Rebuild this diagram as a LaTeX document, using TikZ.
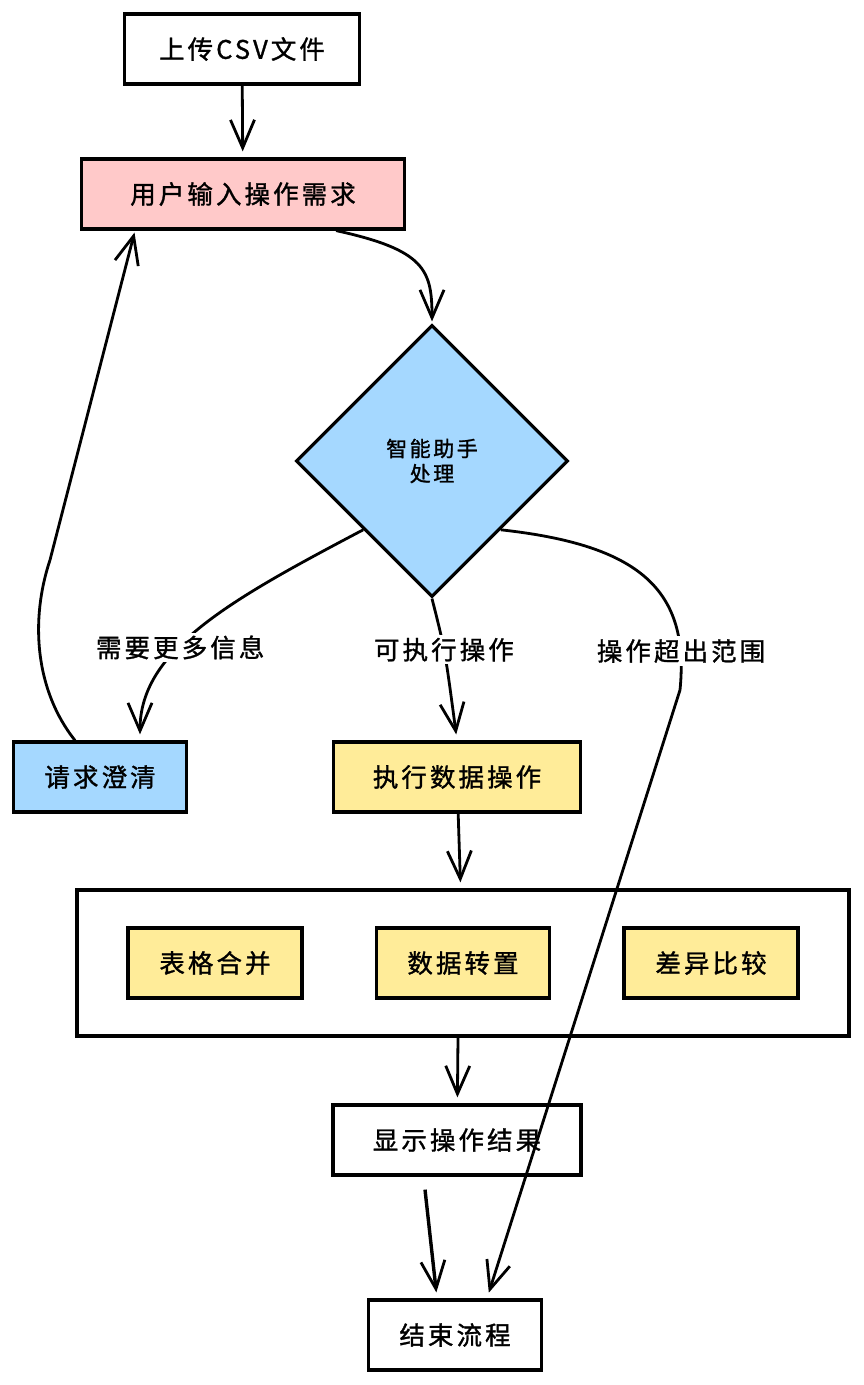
\documentclass[tikz,border=0pt]{standalone}
\usepackage{fontspec}
\newfontfamily\cjk[LetterSpace=12,FakeBold=1.2]{Noto Sans CJK SC}
\usetikzlibrary{arrows.meta,shapes.geometric}
\definecolor{rosa}{HTML}{FFC9C9}
\definecolor{azul}{HTML}{A5D8FF}
\definecolor{amarillo}{HTML}{FFEC99}
\begin{document}
\begin{tikzpicture}[x=1pt,y=-1pt,line width=2.8pt,
	caja/.style={draw,line width=3.2pt,minimum height=70pt,inner sep=0pt,font=\cjk\fontsize{25.5}{29}\selectfont},
	flecha/.style={-{Straight Barb[length=28pt,width=24pt,line width=2.8pt]},shorten >=6pt},
	etiqueta/.style={fill=white,inner sep=3pt,font=\cjk\fontsize{25.5}{29}\selectfont}]
	\useasboundingbox (0,0) rectangle (864,1385);
	\node[caja,minimum width=235pt] (subir) at (242,49) {上传CSV文件};
	\node[caja,fill=rosa,minimum width=323pt] (entrada) at (243,194) {用户输入操作需求};
	\node[draw,diamond,fill=azul,line width=3.2pt,minimum width=272pt,minimum height=272pt,inner sep=0pt,align=center,font=\cjk\fontsize{21}{25}\selectfont] (centro) at (432,461) {智能助手\\处理};
	\node[caja,fill=azul,minimum width=173pt] (aclarar) at (100,777) {请求澄清};
	\node[caja,fill=amarillo,minimum width=247pt] (ejecutar) at (457,777) {执行数据操作};
	% grupo de operaciones
	\node[draw,line width=3.2pt,minimum width=772pt,minimum height=146pt] (grupo) at (463,963) {};
	\node[caja,fill=amarillo,minimum width=174pt] (unir) at (215,963) {表格合并};
	\node[caja,fill=amarillo,minimum width=173pt] (transponer) at (463,963) {数据转置};
	\node[caja,fill=amarillo,minimum width=174pt] (comparar) at (711,963) {差异比较};
	\node[caja,minimum width=248pt] (mostrar) at (457,1140) {显示操作结果};
	\node[caja,minimum width=173pt] (fin) at (455,1335) {结束流程};

	\draw[flecha] (subir) -- (entrada);
	\draw[flecha,shorten >=2pt] ([xshift=-70pt]entrada.south east) .. controls (425,250) and (432,270) .. (centro.north);
	\draw[flecha] (centro.south west) .. controls (230,600) and (140,650) .. ([xshift=40pt]aclarar.north) node[etiqueta,pos=0.6] {需要更多信息};
	\draw[flecha] (centro.south) .. controls (445,650) .. (ejecutar.north) node[etiqueta,pos=0.45] {可执行操作};
	\draw[flecha] (centro.south east) .. controls (640,545) and (690,590) .. (680,690) -- ([xshift=32pt]fin.north);
	\node[etiqueta] (fuera) at (681,651) {操作超出范围};
	\draw[flecha,shorten >=2pt] ([xshift=-25pt]aclarar.north) .. controls (35,690) and (30,620) .. (50,560) -- ([xshift=-108pt]entrada.south);
	\draw[flecha] (ejecutar) -- (grupo);
	\draw[flecha] ([xshift=-5pt]grupo.south) -- (mostrar);
	\draw[flecha,line width=3.4pt] ([xshift=-32pt,yshift=-13pt]mostrar.south) -- ([xshift=-18pt]fin.north);
\end{tikzpicture}
\end{document}
